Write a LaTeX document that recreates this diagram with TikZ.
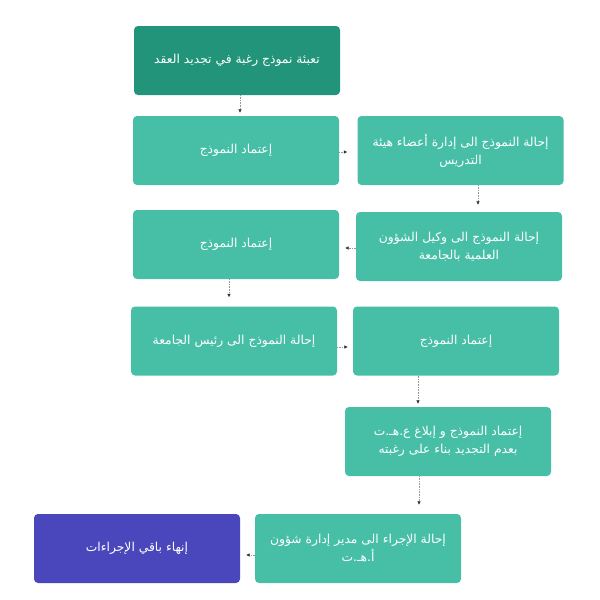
\documentclass[tikz,border=0pt]{standalone}
\usepackage{fontspec}
\newfontfamily\arabicfont[Script=Arabic]{DejaVu Sans}
\TeXXeTstate=1
\usetikzlibrary{arrows.meta}
\definecolor{boxteal}{HTML}{47BFA7}
\definecolor{boxdark}{HTML}{229479}
\definecolor{boxpurple}{HTML}{4A47BC}
\definecolor{arrgray}{HTML}{9A9A9A}
\tikzset{
  flowbox/.style={rounded corners=4pt, fill=boxteal, minimum width=206pt, minimum height=69pt,
    inner sep=0pt, text=white, align=center, font=\arabicfont\fontsize{12.3}{18}\selectfont},
  flowarr/.style={draw=arrgray, densely dotted, line width=0.6pt,
    -{Latex[length=3.5pt,width=3.5pt,color=black!80]}}
}
\begin{document}
\begin{tikzpicture}[x=1pt,y=-1pt]
\useasboundingbox (0,0) rectangle (600,600);
\node[flowbox, fill=boxdark] (n1) at (237,60.5) {\beginR تعبئة نموذج رغبة في تجديد العقد\endR};
\node[flowbox] (nA) at (236,150.5) {\beginR إعتماد النموذج\endR};
\node[flowbox] (nB) at (460.5,150.5) {\beginR إحالة النموذج الى إدارة أعضاء هيئة\endR\\\beginR التدريس\endR};
\node[flowbox] (nC) at (459,246.5) {\beginR إحالة النموذج الى وكيل الشؤون\endR\\\beginR العلمية بالجامعة\endR};
\node[flowbox] (nD) at (236,244.5) {\beginR إعتماد النموذج\endR};
\node[flowbox] (nE) at (234,341) {\beginR إحالة النموذج الى رئيس الجامعة\endR};
\node[flowbox] (nF) at (456,341) {\beginR إعتماد النموذج\endR};
\node[flowbox] (nG) at (448,441.5) {\beginR إعتماد النموذج و إبلاغ ع.هـ.ت\endR\\\beginR بعدم التجديد بناء على رغبته\endR};
\node[flowbox] (nH) at (358,548.5) {\beginR إحالة الإجراء الى مدير إدارة شؤون\endR\\\beginR أ.هـ.ت\endR};
\node[flowbox, fill=boxpurple] (nI) at (137,548.5) {\beginR إنهاء باقي الإجراءات\endR};
% connectors
\draw[flowarr, shorten >=3pt] ([xshift=3pt]n1.south) -- ([xshift=3pt]n1.south |- nA.north);
\draw[flowarr, shorten >=10pt] ([yshift=-1.5pt]nA.east) -- ([yshift=-1.5pt]nA.east -| nB.west);
\draw[flowarr, shorten >=7pt] ([xshift=17.5pt]nB.south) -- ([xshift=17.5pt]nB.south |- nC.north);
\draw[flowarr, shorten >=6pt] ([yshift=-1.5pt]nC.west) -- ([yshift=-1.5pt]nC.west -| nD.east);
\draw[flowarr, shorten >=9pt] ([xshift=-7pt]nD.south) -- ([xshift=-7pt]nD.south |- nE.north);
\draw[flowarr, shorten >=5pt] ([yshift=-6pt]nE.east) -- ([yshift=-6pt]nE.east -| nF.west);
\draw[flowarr, shorten >=3pt] ([xshift=-38pt]nF.south) -- ([xshift=-38pt]nF.south |- nG.north);
\draw[flowarr, shorten >=9pt] ([xshift=-29pt]nG.south) -- ([xshift=-29pt]nG.south |- nH.north);
\draw[flowarr, shorten >=6pt] ([yshift=-6.5pt]nH.west) -- ([yshift=-6.5pt]nH.west -| nI.east);
\end{tikzpicture}
\end{document}
